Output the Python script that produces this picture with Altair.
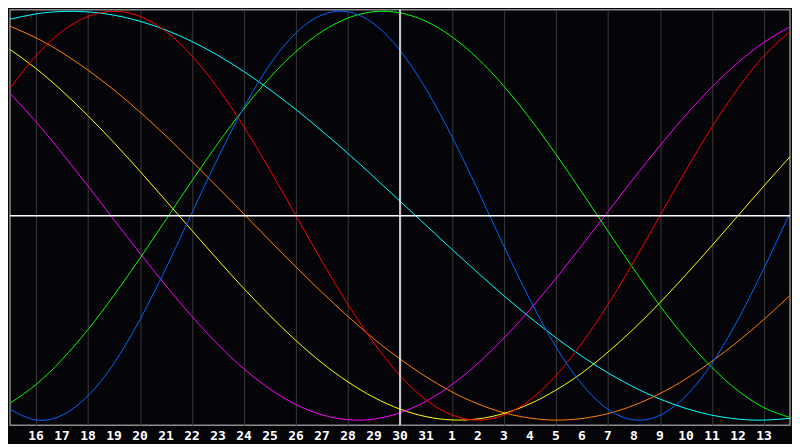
import altair as alt
import pandas as pd

# day index 0..30 (index 0 = 15th, index 15 = 30th "today", index 30 = 14th next month)
day_index = list(range(31))
tick_index = list(range(1, 30))
tick_labels = ["16", "17", "18", "19", "20", "21", "22", "23", "24", "25", "26", "27",
               "28", "29", "30", "31", "1", "2", "3", "4", "5", "6", "7", "8", "9",
               "10", "11", "12", "13"]
today_index = 15

# values (scale -1 .. 1)
blue = [-0.947, -0.999, -0.976, -0.881, -0.722, -0.508, -0.257, 0.014, 0.283, 0.531,
        0.740, 0.894, 0.982, 0.997, 0.938, 0.809, 0.620, 0.386, 0.123, -0.150,
        -0.411, -0.642, -0.825, -0.947, -0.999, -0.976, -0.881, -0.722, -0.508, -0.257, 0.014]
red = [0.623, 0.782, 0.901, 0.975, 1.000, 0.975, 0.901, 0.782, 0.623, 0.434,
       0.223, 0.000, -0.223, -0.434, -0.623, -0.782, -0.901, -0.975, -1.000, -0.975,
       -0.901, -0.782, -0.623, -0.434, -0.223, 0.000, 0.223, 0.434, 0.623, 0.782, 0.901]
green = [-0.917, -0.826, -0.704, -0.557, -0.389, -0.208, -0.019, 0.171, 0.354, 0.524,
         0.676, 0.803, 0.901, 0.967, 0.998, 0.992, 0.951, 0.875, 0.768, 0.633,
         0.475, 0.300, 0.114, -0.076, -0.263, -0.441, -0.603, -0.743, -0.856, -0.939, -0.987]
magenta = [0.598, 0.459, 0.306, 0.145, -0.020, -0.184, -0.343, -0.493, -0.630, -0.749,
           -0.848, -0.924, -0.974, -0.998, -0.995, -0.964, -0.908, -0.826, -0.722, -0.598,
           -0.459, -0.306, -0.145, 0.020, 0.184, 0.343, 0.493, 0.630, 0.749, 0.848, 0.924]
yellow = [0.813, 0.720, 0.611, 0.489, 0.357, 0.217, 0.073, -0.073, -0.217, -0.357,
          -0.489, -0.611, -0.720, -0.813, -0.889, -0.946, -0.983, -0.999, -0.994, -0.967,
          -0.920, -0.853, -0.769, -0.667, -0.552, -0.425, -0.288, -0.146, 0.000, 0.146, 0.288]
orange = [0.927, 0.870, 0.798, 0.712, 0.615, 0.507, 0.390, 0.266, 0.138, 0.008,
          -0.123, -0.251, -0.375, -0.493, -0.603, -0.701, -0.788, -0.862, -0.921, -0.964,
          -0.990, -1.000, -0.992, -0.968, -0.927, -0.870, -0.798, -0.712, -0.615, -0.507, -0.390]
cyan = [0.961, 0.987, 0.999, 0.997, 0.981, 0.951, 0.908, 0.852, 0.784, 0.705,
        0.616, 0.519, 0.414, 0.304, 0.189, 0.071, -0.047, -0.165, -0.280, -0.392,
        -0.498, -0.597, -0.688, -0.769, -0.839, -0.897, -0.943, -0.976, -0.995, -1.000, -0.991]

series = {
    "cyan": cyan, "orange": orange, "yellow": yellow, "magenta": magenta,
    "green": green, "red": red, "blue": blue,
}
colors = {
    "cyan": "#00ffff", "orange": "#ff8000", "yellow": "#ffff00", "magenta": "#ff00ff",
    "green": "#00ff00", "red": "#ff0000", "blue": "#0064ff",
}

rows = []
for order, (name, vals) in enumerate(series.items()):
    for i, v in zip(day_index, vals):
        rows.append({"i": i, "v": v, "s": name, "o": order})
df = pd.DataFrame(rows)
labels_df = pd.DataFrame({"i": tick_index, "label": tick_labels})

PLOT_W = 783
PLOT_H = 417

xscale = alt.Scale(domain=[0, 30], nice=False, zero=False)
yscale = alt.Scale(domain=[-1.025, 1.007], nice=False, zero=False)

lines = alt.Chart(df).mark_line(strokeWidth=1, interpolate="natural").encode(
    x=alt.X("i:Q", scale=xscale,
            axis=alt.Axis(values=tick_index, labels=False, title=None,
                          grid=True, gridColor="#3a3a3a", gridWidth=1,
                          domain=False, ticks=False)),
    y=alt.Y("v:Q", scale=yscale, axis=None),
    color=alt.Color("s:N", scale=alt.Scale(domain=list(colors.keys()),
                                            range=list(colors.values())), legend=None),
    detail="s:N",
    order="o:Q",
)

hline = alt.Chart(pd.DataFrame({"v": [0]})).mark_rule(color="#ffffff", strokeWidth=1.5).encode(
    y=alt.Y("v:Q", scale=yscale)
)
vline = alt.Chart(pd.DataFrame({"i": [today_index]})).mark_rule(color="#ffffff", strokeWidth=1.5).encode(
    x=alt.X("i:Q", scale=xscale)
)

day_text = alt.Chart(labels_df).mark_text(
    color="#ffffff", font="DejaVu Sans Mono", fontSize=13, fontWeight="bold",
    align="center", baseline="middle"
).encode(
    x=alt.X("i:Q", scale=xscale),
    y=alt.value(PLOT_H + 11),
    text="label:N",
)

chart = alt.layer(lines, hline, vline, day_text).properties(
    width=PLOT_W, height=PLOT_H,
    padding=0,
    background="#050408",
).configure_view(
    fill="#050408", stroke="#8c8c8c", strokeWidth=1.5
)

chart.save("out.html", embed_options={"renderer": "svg", "actions": False})
